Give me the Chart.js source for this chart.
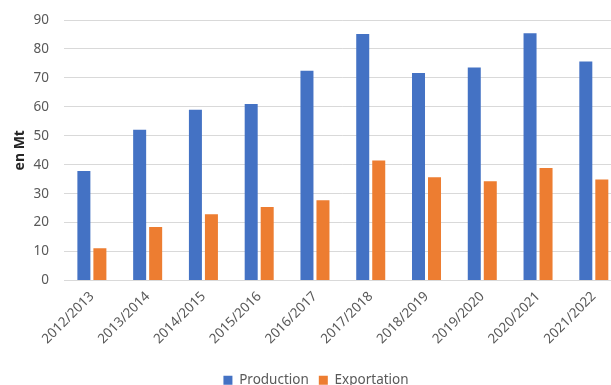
<!DOCTYPE html>
<html>
<head>
<meta charset="utf-8">
<script src="https://cdn.jsdelivr.net/npm/chart.js@4"></script>
<style>
  html, body { margin: 0; padding: 0; background: #ffffff; overflow: hidden; width: 611px; height: 385px; }
  #wrap { position: relative; width: 640px; height: 385px; }
</style>
</head>
<body>
<div id="wrap"><canvas id="c" width="640" height="385"></canvas></div>
<script>
const categories = ["2012/2013", "2013/2014", "2014/2015", "2015/2016", "2016/2017",
                    "2017/2018", "2018/2019", "2019/2020", "2020/2021", "2021/2022"];
const production = [37.8, 52.1, 59.0, 61.0, 72.5, 85.2, 71.7, 73.6, 85.4, 75.7];
const exportation = [11.1, 18.5, 22.9, 25.4, 27.7, 41.5, 35.7, 34.3, 38.9, 34.9];
const seriesNames = ["Production", "Exportation"];
const yTicks = [0, 10, 20, 30, 40, 50, 60, 70, 80, 90];
const yTitle = "en Mt";

const FONT = "'Noto Sans', 'Open Sans', sans-serif";
const textColor = "#595959";
const gridColor = "#d9d9d9";

new Chart(document.getElementById("c"), {
  type: "bar",
  data: {
    labels: categories,
    datasets: [
      { label: seriesNames[0], data: production, backgroundColor: "#4472C4",
        categoryPercentage: 0.574, barPercentage: 0.8125 },
      { label: seriesNames[1], data: exportation, backgroundColor: "#ED7D31",
        categoryPercentage: 0.574, barPercentage: 0.8125 }
    ]
  },
  options: {
    responsive: false,
    animation: false,
    devicePixelRatio: 1,
    layout: { padding: { left: 10.3, right: 18.3, top: 20, bottom: -12 } },
    plugins: {
      tooltip: { enabled: false },
      legend: {
        position: "bottom",
        align: "center",
        labels: {
          boxWidth: 9, boxHeight: 9, padding: 10,
          color: textColor,
          font: { family: FONT, size: 13.5 }
        }
      }
    },
    scales: {
      x: {
        grid: { display: false, drawTicks: false },
        border: { display: true, color: gridColor, width: 1 },
        ticks: {
          color: textColor, font: { family: FONT, size: 13.5 },
          maxRotation: 45, minRotation: 45, padding: 8, autoSkip: false
        },
        afterFit(scale) { scale.height = 83; }
      },
      y: {
        min: 0, max: 90,
        afterBuildTicks(scale) { scale.ticks = yTicks.map(v => ({ value: v })); },
        grid: { color: gridColor, lineWidth: 1, drawTicks: false },
        border: { display: false },
        ticks: { color: textColor, font: { family: FONT, size: 13.5 }, padding: 15 },
        title: {
          display: true, text: yTitle, color: "#262626",
          font: { family: FONT, size: 14, weight: "bold" },
          padding: { top: 1, bottom: 0 }
        },
        afterFit(scale) {
          scale.width = 53.7;
          scale.paddingTop = 0;
          scale.paddingBottom = 0;
        }
      }
    }
  }
});
</script>
</body>
</html>
